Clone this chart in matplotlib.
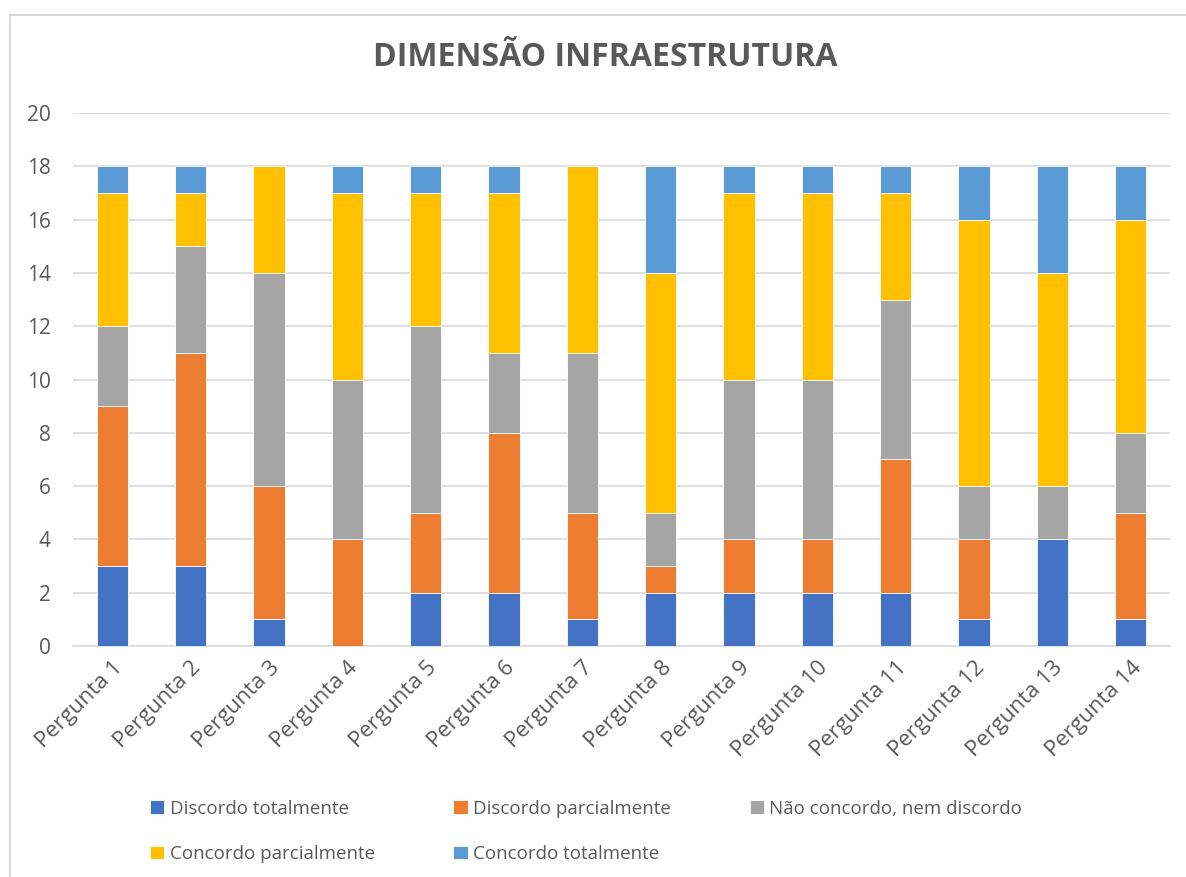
import numpy as np
from matplotlib import pyplot as plt
from matplotlib.patches import Rectangle

plt.rcParams['font.family'] = ['Open Sans', 'DejaVu Sans']

perguntas = ["Pergunta %d" % i for i in range(1, 15)]
series = ["Discordo totalmente", "Discordo parcialmente",
          "Não concordo, nem discordo", "Concordo parcialmente",
          "Concordo totalmente"]

discordo_total = [3, 3, 1, 0, 2, 2, 1, 2, 2, 2, 2, 1, 4, 1]
discordo_parcial = [6, 8, 5, 4, 3, 6, 4, 1, 2, 2, 5, 3, 0, 4]
neutro = [3, 4, 8, 6, 7, 3, 6, 2, 6, 6, 6, 2, 2, 3]
concordo_parcial = [5, 2, 4, 7, 5, 6, 7, 9, 7, 7, 4, 10, 8, 8]
concordo_total = [1, 1, 0, 1, 1, 1, 0, 4, 1, 1, 1, 2, 4, 2]

cores = ["#4472C4", "#ED7D31", "#A5A5A5", "#FFC000", "#5B9BD5"]
txt = "#595959"

fig = plt.figure(figsize=(11.86, 8.77), dpi=100)
fig.patches.append(Rectangle((10 / 1186, -0.1), 1.2, 1 - 15 / 877 + 0.1,
                             transform=fig.transFigure, fill=False,
                             edgecolor="#D9D9D9", linewidth=1.5))
ax = fig.add_axes([73 / 1186, 1 - 646 / 877, (1170 - 73) / 1186, (646 - 113) / 877])

x = np.arange(len(perguntas))
base = np.zeros(len(perguntas))
handles = []
for nome, vals, c in zip(series, [discordo_total, discordo_parcial, neutro,
                                  concordo_parcial, concordo_total], cores):
    b = ax.bar(x, vals, 0.4, bottom=base, color=c, label=nome,
               edgecolor="white", linewidth=0.6, zorder=3)
    handles.append(b)
    base += np.array(vals)

ax.set_xlim(-0.5, len(perguntas) - 0.5)
ax.set_ylim(0, 20)
ax.set_yticks(range(0, 21, 2))
ax.yaxis.grid(True, color="#D9D9D9", linewidth=1.2, zorder=0)
for s in ["top", "right", "left"]:
    ax.spines[s].set_visible(False)
ax.spines["bottom"].set_color("#D9D9D9")
ax.spines["bottom"].set_linewidth(1.2)
ax.tick_params(length=0, colors=txt)
ax.tick_params(axis="y", pad=16, labelsize=15)
ax.tick_params(axis="x", pad=8, labelsize=16)
ax.set_xticks(x)
ax.set_xticklabels(perguntas, rotation=45, ha="right", rotation_mode="anchor")

fig.text(605 / 1186, 1 - 58 / 877, "DIMENSÃO INFRAESTRUTURA", ha="center", va="center",
         fontsize=23, fontweight="bold", color=txt)

ordem = [0, 3, 1, 4, 2]
fig.legend([handles[i] for i in ordem], [series[i] for i in ordem],
           loc="upper left", bbox_to_anchor=(133 / 1186, 1 - 783 / 877),
           ncol=3, frameon=False, fontsize=13.5, labelcolor=txt,
           handlelength=0.75, handleheight=0.75, handletextpad=0.3,
           columnspacing=4.2, labelspacing=1.45)

fig.savefig("out.png", dpi=100)
